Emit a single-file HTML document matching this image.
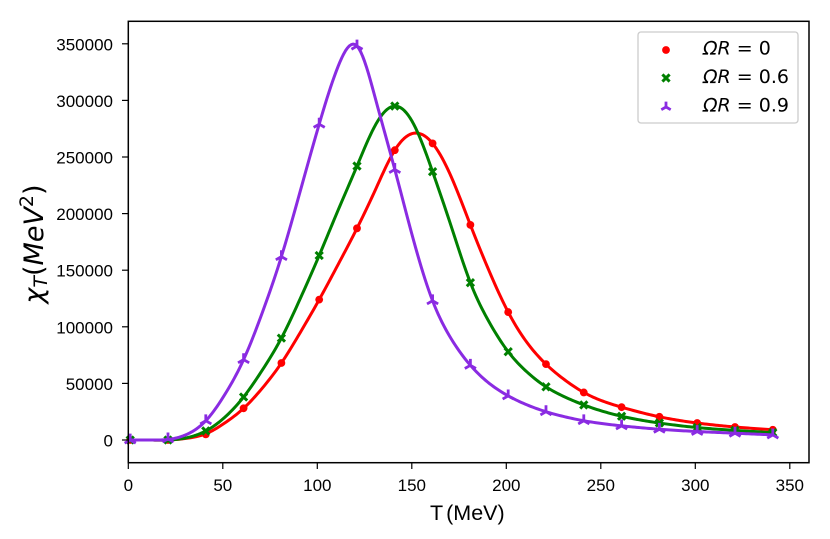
<!DOCTYPE html>
<html>
<head>
<meta charset="utf-8">
<style>
html,body{margin:0;padding:0;background:#fff;width:830px;height:539px;overflow:hidden}
svg{display:block}
.tick{font-family:"Liberation Sans",sans-serif;font-size:17px;fill:#000}
.leg{font-family:"DejaVu Sans",sans-serif;font-size:19px;fill:#000}
</style>
</head>
<body>
<svg id="chart" xmlns="http://www.w3.org/2000/svg" width="830" height="539" viewBox="0 0 830 539">
  <rect x="0" y="0" width="830" height="539" fill="#fff"/>
  <g id="plot"></g>
  <rect x="128.3" y="21.3" width="680.7" height="441.4" fill="none" stroke="#000" stroke-width="1.5"/>
  <g id="xt"></g>
  <g id="yt"></g>
  <text x="430" y="520" font-family="'Liberation Sans',sans-serif" font-size="21.5">T<tspan dx="3">(MeV)</tspan></text>
  <text transform="translate(43,244) rotate(-90)" text-anchor="middle" font-family="'DejaVu Sans',sans-serif" font-size="27" font-style="italic">χ<tspan font-size="19" dy="4">T</tspan><tspan dy="-4" font-style="normal">(</tspan>MeV<tspan font-style="normal" font-size="19" dy="-10">2</tspan><tspan font-style="normal" dy="10">)</tspan></text>
  <g>
    <rect x="638" y="32" width="160" height="91" rx="3" fill="#fff" fill-opacity="0.8" stroke="#ccc" stroke-width="1.3"/>
    <g id="legm"></g>
    <text class="leg" x="703" y="54.5"><tspan font-style="italic">ΩR</tspan> = 0</text>
    <text class="leg" x="703" y="83"><tspan font-style="italic">ΩR</tspan> = 0.6</text>
    <text class="leg" x="703" y="111.5"><tspan font-style="italic">ΩR</tspan> = 0.9</text>
  </g>
</svg>
<script>
const temperatures = [1,21,41,61,81,101,121,141,161,181,201,221,241,261,281,301,321,341];
const omega0Values  = [0,0,5000,28000,68000,124000,187000,256000,262000,190000,113000,67000,42000,29000,20500,15000,11500,9000];
const omega06Values = [0,0,8000,38000,90000,163000,242000,295000,237000,139000,78000,47000,31000,21000,15000,11000,8500,6500];
const omega09Values = [0,1000,17000,71000,162000,279000,348000,239000,123000,66000,39000,25000,17000,12500,9500,7500,6000,4500];
const curveT  = [1,11,21,31,41,51,61,71,81,91,101,111,121,131,141,151,161,171,181,191,201,211,221,231,241,261,281,301,321,341];
const omega0Curve   = [0,0,0,1500,5500,15000,28000,46000,68000,95000,124000,155000,187000,222000,256000,271000,262000,232000,190000,149000,113000,86000,67000,53000,42000,29000,20500,15000,11500,9000];
const omega06Curve  = [0,0,0,2000,8000,20000,38000,62000,90000,125000,163000,203000,242000,279000,295000,279000,237000,188000,139000,104000,78000,60000,47000,38000,31000,21000,15000,11000,8500,6500];
const omega09Curve  = [0,0,500,5000,17000,40000,71000,113000,162000,220000,279000,330000,348000,300000,239000,176000,123000,89000,66000,50000,39000,31000,25000,20500,17000,12500,9500,7500,6000,4500];
const xTicks = [0,50,100,150,200,250,300,350];
const yTicks = [0,50000,100000,150000,200000,250000,300000,350000];

const NS = 'http://www.w3.org/2000/svg';
function xScale(t){ return 128.3 + t * 1.89; }
function yScale(v){ return 440 - v * 56.6 / 50000; }
function mk(tag, attrs, parent){
  const e = document.createElementNS(NS, tag);
  for (const k in attrs) e.setAttribute(k, attrs[k]);
  parent.appendChild(e);
  return e;
}
function splinePath(xs, ys){
  const n = xs.length, a = new Array(n).fill(0), b = new Array(n).fill(1), c = new Array(n).fill(0), r = new Array(n).fill(0);
  for (let i = 1; i < n - 1; i++){
    const h0 = xs[i]-xs[i-1], h1 = xs[i+1]-xs[i];
    a[i] = h0; b[i] = 2*(h0+h1); c[i] = h1;
    r[i] = 6*((ys[i+1]-ys[i])/h1 - (ys[i]-ys[i-1])/h0);
  }
  for (let i = 1; i < n; i++){
    const w = a[i]/b[i-1];
    b[i] -= w*c[i-1];
    r[i] -= w*r[i-1];
  }
  const M = new Array(n).fill(0);
  M[n-1] = r[n-1]/b[n-1];
  for (let i = n - 2; i >= 0; i--) M[i] = (r[i]-c[i]*M[i+1])/b[i];
  let p = '', seg = 0;
  for (let t = xs[0]; t <= xs[n-1] + 1e-6; t += 1){
    while (seg < n - 2 && t > xs[seg+1]) seg++;
    const h = xs[seg+1]-xs[seg], A = (xs[seg+1]-t)/h, B = (t-xs[seg])/h;
    const v = A*ys[seg] + B*ys[seg+1] + ((A*A*A-A)*M[seg] + (B*B*B-B)*M[seg+1])*h*h/6;
    p += (p ? 'L' : 'M') + xScale(t).toFixed(2) + ' ' + yScale(v).toFixed(2);
  }
  return p;
}
function circleMarker(parent, x, y){
  const e = mk('circle', {cx:x, cy:y, r:3.9, fill:'#ff0000'}, parent);
  return e;
}
function crossMarker(parent, x, y){
  const s = 3.6;
  const e = mk('path', {d:`M${x-s} ${y-s}L${x+s} ${y+s}M${x-s} ${y+s}L${x+s} ${y-s}`, stroke:'#008000', 'stroke-width':3, fill:'none'}, parent);
  return e;
}
function triMarker(parent, x, y, size){
  const s = size || 6.4;
  const e = mk('path', {d:`M${x} ${y}L${x} ${y-s}M${x} ${y}L${x-s*0.87} ${y+s*0.5}M${x} ${y}L${x+s*0.87} ${y+s*0.5}`, stroke:'#8a2be2', 'stroke-width':2.8, fill:'none'}, parent);
  return e;
}

const plot = document.getElementById('plot');
function drawSeries(name, color, curve, values, marker){
  const g = mk('g', {}, plot);
  
  
  const line = mk('path', {d:splinePath(curveT, curve), fill:'none', stroke:color, 'stroke-width':3, 'stroke-linejoin':'round'}, g);
  
  
  temperatures.forEach(function(t, i){
    const pt = marker(g, xScale(t), yScale(values[i]));
    
    
  });
}
drawSeries('omega-r-0', '#ff0000', omega0Curve, omega0Values, circleMarker);
drawSeries('omega-r-0-6', '#008000', omega06Curve, omega06Values, crossMarker);
drawSeries('omega-r-0-9', '#8a2be2', omega09Curve, omega09Values, triMarker);

const xt = document.getElementById('xt');
xTicks.forEach(function(t){
  const x = xScale(t);
  const tickMark = mk('line', {x1:x, x2:x, y1:462.7, y2:469, stroke:'#000', 'stroke-width':1.2}, xt);
  
  
  const label = mk('text', {x:x, y:491, 'text-anchor':'middle', class:'tick'}, xt);
  
  
  label.textContent = t;
});
const yt = document.getElementById('yt');
yTicks.forEach(function(v){
  const y = yScale(v);
  const tickMark = mk('line', {x1:122, x2:128.3, y1:y, y2:y, stroke:'#000', 'stroke-width':1.2}, yt);
  
  
  const label = mk('text', {x:113, y:y + 6.5, 'text-anchor':'end', class:'tick'}, yt);
  
  
  label.textContent = v;
});

const legm = document.getElementById('legm');
const m0 = circleMarker(legm, 666, 50);


const m1 = crossMarker(legm, 666, 78);


const m2 = triMarker(legm, 666, 107, 5.4);


</script>
</body>
</html>
